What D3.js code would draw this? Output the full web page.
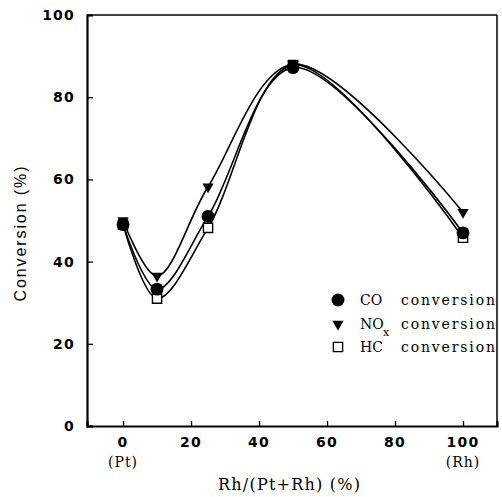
<!DOCTYPE html>
<html>
<head>
<meta charset="utf-8">
<script src="https://cdn.jsdelivr.net/npm/d3@7"></script>
<style>
  body { margin: 0; background: #fff; }
  svg { display: block; }
</style>
</head>
<body>
<div id="VisContainer"></div>
<script>
// Rh/(Pt+Rh) content, %
rhRatio = [0, 10, 25, 50, 100];
coConv  = [49, 33.3, 51, 87.2, 47];
noxConv = [50, 36.5, 58.2, 88, 52];
hcConv  = [49, 31, 48.2, 87.8, 45.8];

xTicks = [0, 20, 40, 60, 80, 100];
yTicks = [0, 20, 40, 60, 80, 100];

W = 502; H = 497;
margin = {top: 15, right: 5, bottom: 71, left: 87};
width  = W - margin.left - margin.right;
height = H - margin.top - margin.bottom;

svg = d3.select("#VisContainer").append("svg")
        .attr("width", W)
        .attr("height", H);

g = svg.append("g")
       .attr("transform", "translate(" + margin.left + "," + margin.top + ")");

x = d3.scaleLinear().domain([-10.6, 110]).range([0, width]);
y = d3.scaleLinear().domain([0, 100]).range([height, 0]);

// frame
g.append("line").attr("x1", 0).attr("x2", width).attr("y1", 0).attr("y2", 0)
 .attr("stroke", "#000").attr("stroke-width", 1.5);
g.append("line").attr("x1", width).attr("x2", width).attr("y1", 0).attr("y2", height)
 .attr("stroke", "#000").attr("stroke-width", 1.5);

// axes with inward ticks
yAxis = g.append("g")
  .call(d3.axisRight(y).tickValues(yTicks).tickSize(6).tickFormat(""));
yAxis.select(".domain").attr("stroke-width", 2.2);
yAxis.selectAll(".tick line").attr("stroke-width", 1.3);

xAxis = g.append("g")
  .attr("transform", "translate(0," + height + ")")
  .call(d3.axisTop(x).tickValues(xTicks).tickSize(5).tickFormat(""));
xAxis.select(".domain").attr("stroke-width", 2.2);
xAxis.selectAll(".tick line").attr("stroke-width", 1.3);

// tick labels
g.selectAll("text.ylab")
  .data(yTicks)
  .enter().append("text")
  .attr("class", "ylab")
  .attr("x", -12)
  .attr("y", function(d){ return y(d); })
  .attr("dy", "0.36em")
  .attr("text-anchor", "end")
  .style("font-family", "DejaVu Sans")
  .style("font-weight", "bold")
  .style("font-size", "14px")
  .style("letter-spacing", "1.2px")
  .text(function(d){ return d; });

g.selectAll("text.xlab")
  .data(xTicks)
  .enter().append("text")
  .attr("class", "xlab")
  .attr("x", function(d){ return x(d); })
  .attr("y", height + 21)
  .attr("text-anchor", "middle")
  .style("font-family", "DejaVu Sans")
  .style("font-weight", "bold")
  .style("font-size", "14px")
  .style("letter-spacing", "1.2px")
  .text(function(d){ return d; });

endLabels = [{v: 0, t: "(Pt)"}, {v: 100, t: "(Rh)"}];
g.selectAll("text.endlab")
  .data(endLabels)
  .enter().append("text")
  .attr("class", "endlab")
  .attr("x", function(d){ return x(d.v); })
  .attr("y", height + 41)
  .attr("text-anchor", "middle")
  .style("font-family", "DejaVu Serif")
  .style("font-size", "14px")
  .style("letter-spacing", "1px")
  .text(function(d){ return d.t; });

// axis titles
svg.append("text")
   .attr("x", 289).attr("y", 490)
   .attr("text-anchor", "middle")
   .attr("textLength", 142).attr("lengthAdjust", "spacing")
   .style("font-family", "DejaVu Serif")
   .style("font-size", "16px")
   .text("Rh/(Pt+Rh) (%)");

svg.append("text")
   .attr("transform", "translate(26,234) rotate(-90)")
   .attr("text-anchor", "middle")
   .attr("textLength", 135).attr("lengthAdjust", "spacing")
   .style("font-family", "Liberation Sans")
   .style("font-size", "16px")
   .text("Conversion (%)");

// curves
series = [
  {name: "CO",  vals: coConv,  mark: "circle"},
  {name: "NOx", vals: noxConv, mark: "tri"},
  {name: "HC",  vals: hcConv,  mark: "square"}
];

line = d3.line()
  .x(function(d){ return x(d[0]); })
  .y(function(d){ return y(d[1]); })
  .curve(d3.curveCatmullRom.alpha(0.5));

series.forEach(function(s){
  g.append("path")
   .datum(d3.zip(rhRatio, s.vals))
   .attr("fill", "none")
   .attr("stroke", "#000")
   .attr("stroke-width", 1.6)
   .attr("d", line);
});

symCircle = d3.symbol().type(d3.symbolCircle).size(130);
symTri    = d3.symbol().type(d3.symbolTriangle).size(55);
symSquare = d3.symbol().type(d3.symbolSquare).size(85);

function drawMark(sel, kind) {
  if (kind == "circle") {
    sel.append("path").attr("d", symCircle).attr("fill", "#000");
  } else if (kind == "tri") {
    sel.append("path").attr("d", symTri).attr("transform", "rotate(180)").attr("fill", "#000");
  } else {
    sel.append("path").attr("d", symSquare).attr("fill", "#fff")
       .attr("stroke", "#000").attr("stroke-width", 1.4);
  }
}

// draw order: square behind, then triangle, then circle on top
[series[2], series[1], series[0]].forEach(function(s){
  g.selectAll(null)
   .data(d3.zip(rhRatio, s.vals))
   .enter().append("g")
   .attr("transform", function(d){ return "translate(" + x(d[0]) + "," + y(d[1]) + ")"; })
   .each(function(){ drawMark(d3.select(this), s.mark); });
});

// legend
legendRows = [
  {mark: "circle", label: "CO",  sub: "",  y: 300},
  {mark: "tri",    label: "NO",  sub: "x", y: 324},
  {mark: "square", label: "HC",  sub: "",  y: 347}
];

legendRows.forEach(function(r){
  lg = svg.append("g").attr("transform", "translate(338," + r.y + ")");
  drawMark(lg, r.mark);
  lg.append("text")
    .attr("x", 22).attr("y", 0).attr("dy", "0.33em")
    .style("font-family", "DejaVu Serif")
    .style("font-size", "14px")
    .text(r.label);
  if (r.sub) {
    lg.append("text")
      .attr("x", 45).attr("y", 12)
      .style("font-family", "DejaVu Serif")
      .style("font-size", "11px")
      .text(r.sub);
  }
  lg.append("text")
    .attr("x", 63).attr("y", 0).attr("dy", "0.33em")
    .attr("textLength", 94).attr("lengthAdjust", "spacing")
    .style("font-family", "DejaVu Serif")
    .style("font-size", "14px")
    .text("conversion");
});
</script>
</body>
</html>
